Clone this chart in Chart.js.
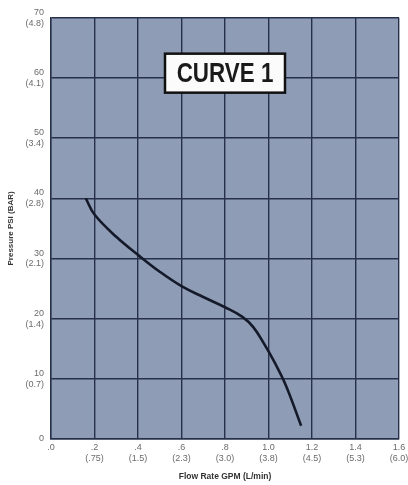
<!DOCTYPE html>
<html>
<head>
<meta charset="utf-8">
<script src="https://cdn.jsdelivr.net/npm/chart.js@4.4.1/dist/chart.umd.min.js"></script>
<style>
  html, body { margin: 0; padding: 0; background: #fff; }
  #wrap { width: 408px; height: 485px; }
</style>
</head>
<body>
<div id="wrap"><canvas id="curveChart"></canvas></div>
<script>
// flow (GPM) vs pressure (PSI)
const flowGpm = [0.16, 0.2, 0.3, 0.4, 0.5, 0.6, 0.7, 0.8, 0.88, 0.93, 0.98, 1.03, 1.08, 1.15];
const pressurePsi = [40, 37.3, 33.6, 30.6, 27.8, 25.4, 23.6, 21.9, 20.3, 18.6, 15.8, 12.6, 8.9, 2.2];

const xTicks = ['.0', '.2', '.4', '.6', '.8', '1.0', '1.2', '1.4', '1.6'];
const xTicksMetric = ['', '(.75)', '(1.5)', '(2.3)', '(3.0)', '(3.8)', '(4.5)', '(5.3)', '(6.0)'];
const yTicks = ['0', '10', '20', '30', '40', '50', '60', '70'];
const yTicksMetric = ['', '(0.7)', '(1.4)', '(2.1)', '(2.8)', '(3.4)', '(4.1)', '(4.8)'];

const gridColor = '#27304a';
const tickColor = '#6b6b6b';

// label box drawn on the plot
const curveLabel = { text: 'CURVE 1', x: 0.8, y: 60.8 };
const labelPlugin = {
    id: 'curveLabel',
    afterDatasetsDraw(chart) {
        const ctx = chart.ctx;
        const cx = chart.scales.x.getPixelForValue(curveLabel.x);
        const cy = chart.scales.y.getPixelForValue(curveLabel.y);
        const w = 120, h = 39;
        ctx.save();
        ctx.fillStyle = '#fbfbfb';
        ctx.strokeStyle = '#111';
        ctx.lineWidth = 2.5;
        ctx.fillRect(cx - w / 2, cy - h / 2, w, h);
        ctx.strokeRect(cx - w / 2, cy - h / 2, w, h);
        // squeeze the text, the print uses a condensed face
        ctx.translate(cx, cy + 1);
        ctx.scale(0.8, 1);
        ctx.fillStyle = '#1a1a1a';
        ctx.font = 'bold 28px "Liberation Sans", Arial, sans-serif';
        ctx.textAlign = 'center';
        ctx.textBaseline = 'middle';
        ctx.fillText(curveLabel.text, 0, 0);
        ctx.restore();
    }
};

// plot area fill
const plotBg = {
    id: 'plotBg',
    beforeDraw(chart) {
        const { ctx, chartArea: a } = chart;
        ctx.save();
        ctx.fillStyle = '#8f9cb6';
        ctx.fillRect(a.left, a.top, a.right - a.left, a.bottom - a.top);
        ctx.restore();
    }
};

new Chart(document.getElementById('curveChart'), {
    type: 'line',
    data: {
        datasets: [{
            data: flowGpm.map((x, i) => ({ x, y: pressurePsi[i] })),
            borderColor: '#141a2a',
            borderWidth: 2.6,
            pointRadius: 0,
            tension: 0.4,
            fill: false
        }]
    },
    options: {
        responsive: true,
        maintainAspectRatio: false,
        animation: false,
        layout: { padding: { top: 16, right: 9, left: 4, bottom: 0 } },
        plugins: {
            legend: { display: false },
            tooltip: { enabled: false }
        },
        scales: {
            x: {
                type: 'linear',
                min: 0,
                max: 1.6,
                ticks: {
                    stepSize: 0.2,
                    color: tickColor,
                    font: { family: 'Liberation Sans', size: 9 },
                    padding: 3,
                    maxRotation: 0,
                    callback: (v, i) => xTicksMetric[i] ? [xTicks[i], xTicksMetric[i]] : xTicks[i]
                },
                grid: { color: gridColor, lineWidth: 1.4, drawTicks: false },
                border: { color: gridColor, width: 1.4 },
                title: {
                    display: true,
                    text: 'Flow Rate GPM (L/min)',
                    color: '#333',
                    font: { family: 'Liberation Sans', size: 8.5, weight: 'bold' },
                    padding: { top: 2, bottom: 3 }
                },
                afterFit: s => { s.height = 46; s.paddingRight = 0; s.paddingLeft = 0; }
            },
            y: {
                min: 0,
                max: 70,
                ticks: {
                    stepSize: 10,
                    color: tickColor,
                    font: { family: 'Liberation Sans', size: 9 },
                    padding: 7,
                    callback: (v, i) => yTicksMetric[i] ? [yTicks[i], yTicksMetric[i]] : yTicks[i]
                },
                grid: { color: gridColor, lineWidth: 1.4, drawTicks: false },
                border: { color: gridColor, width: 1.4 },
                title: {
                    display: true,
                    text: 'Pressure PSI (BAR)',
                    color: '#333',
                    font: { family: 'Liberation Sans', size: 8, weight: 'bold' },
                    padding: { top: 2, bottom: 2 }
                },
                afterFit: s => { s.width = 47; }
            }
        }
    },
    plugins: [plotBg, labelPlugin]
});
</script>
</body>
</html>
